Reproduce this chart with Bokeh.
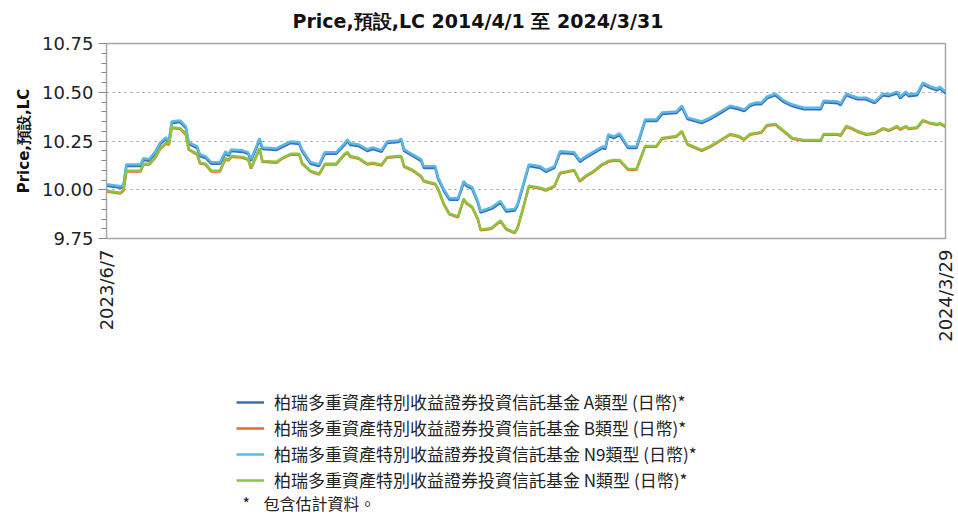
import math
import pandas as pd
from bokeh.plotting import figure
from bokeh.layouts import column
from bokeh.models import (FixedTicker, PrintfTickFormatter, Legend, LegendItem,
                          Label, Range1d, ColumnDataSource)
from bokeh.embed import file_html
from bokeh.resources import INLINE

title_text = "Price,預設,LC 2014/4/1 至 2024/3/31"
y_label = "Price,預設,LC"
footnote_mark = "*"
footnote_text = "包含估計資料。"

series_names = [
    "柏瑞多重資產特別收益證券投資信託基金 A類型 (日幣)*",
    "柏瑞多重資產特別收益證券投資信託基金 B類型 (日幣)*",
    "柏瑞多重資產特別收益證券投資信託基金 N9類型 (日幣)*",
    "柏瑞多重資產特別收益證券投資信託基金 N類型 (日幣)*",
]
series_colors = ["#3A6CC0", "#E8692A", "#5BB8E2", "#8DC43E"]

x_tick_dates = ["2023-06-07", "2024-03-29"]
x_tick_labels = ["2023/6/7", "2024/3/29"]
y_ticks = [9.75, 10.00, 10.25, 10.50, 10.75]

dates = [
    "2023-06-07", "2023-06-12", "2023-06-13", "2023-06-14", "2023-06-19", "2023-06-20", "2023-06-22", "2023-06-24",
    "2023-06-26", "2023-06-28", "2023-06-29", "2023-06-30", "2023-07-03", "2023-07-05", "2023-07-06", "2023-07-09",
    "2023-07-10", "2023-07-12", "2023-07-14", "2023-07-17", "2023-07-19", "2023-07-20", "2023-07-21", "2023-07-25",
    "2023-07-27", "2023-07-28", "2023-07-31", "2023-08-01", "2023-08-06", "2023-08-08", "2023-08-11", "2023-08-14",
    "2023-08-15", "2023-08-18", "2023-08-21", "2023-08-23", "2023-08-27", "2023-08-30", "2023-08-31", "2023-09-01",
    "2023-09-04", "2023-09-07", "2023-09-09", "2023-09-12", "2023-09-14", "2023-09-18", "2023-09-19", "2023-09-20",
    "2023-09-23", "2023-09-26", "2023-09-27", "2023-10-01", "2023-10-02", "2023-10-04", "2023-10-06", "2023-10-09",
    "2023-10-11", "2023-10-12", "2023-10-14", "2023-10-16", "2023-10-17", "2023-10-20", "2023-10-21", "2023-10-24",
    "2023-10-26", "2023-10-29", "2023-10-30", "2023-11-01", "2023-11-03", "2023-11-07", "2023-11-09", "2023-11-12",
    "2023-11-14", "2023-11-19", "2023-11-21", "2023-11-23", "2023-11-26", "2023-11-29", "2023-11-30", "2023-12-01",
    "2023-12-03", "2023-12-05", "2023-12-08", "2023-12-11", "2023-12-14", "2023-12-18", "2023-12-20", "2023-12-25",
    "2023-12-27", "2023-12-29", "2024-01-03", "2024-01-06", "2024-01-09", "2024-01-13", "2024-01-16", "2024-01-18",
    "2024-01-20", "2024-01-22", "2024-01-24", "2024-01-26", "2024-01-29", "2024-02-01", "2024-02-04", "2024-02-08",
    "2024-02-14", "2024-02-15", "2024-02-20", "2024-02-21", "2024-02-23", "2024-02-25", "2024-02-27", "2024-03-01",
    "2024-03-04", "2024-03-07", "2024-03-09", "2024-03-12", "2024-03-13", "2024-03-15", "2024-03-16", "2024-03-19",
    "2024-03-21", "2024-03-24", "2024-03-26", "2024-03-27", "2024-03-29",
]

class_a = [
    10.020, 10.010, 10.015, 10.122, 10.122, 10.153, 10.148, 10.184, 10.235, 10.260,
    10.240, 10.342, 10.347, 10.316, 10.235, 10.214, 10.173, 10.163, 10.133, 10.133,
    10.189, 10.173, 10.199, 10.194, 10.184, 10.148, 10.255, 10.209, 10.204, 10.219,
    10.240, 10.235, 10.199, 10.133, 10.122, 10.184, 10.184, 10.230, 10.250, 10.230,
    10.224, 10.199, 10.209, 10.194, 10.240, 10.245, 10.255, 10.199, 10.173, 10.148,
    10.112, 10.112, 10.056, 9.995, 9.949, 9.949, 10.036, 10.020, 10.005, 9.934,
    9.883, 9.898, 9.903, 9.934, 9.888, 9.893, 9.918, 10.020, 10.122, 10.112,
    10.092, 10.112, 10.189, 10.184, 10.143, 10.163, 10.189, 10.214, 10.209, 10.276,
    10.265, 10.281, 10.214, 10.214, 10.352, 10.352, 10.388, 10.393, 10.423, 10.362,
    10.342, 10.362, 10.388, 10.423, 10.413, 10.403, 10.429, 10.439, 10.439, 10.469,
    10.485, 10.449, 10.429, 10.413, 10.413, 10.449, 10.444, 10.434, 10.485, 10.474,
    10.464, 10.464, 10.444, 10.485, 10.480, 10.495, 10.469, 10.495, 10.480, 10.485,
    10.541, 10.520, 10.510, 10.520, 10.495,
]

class_b = [
    9.991, 9.981, 9.996, 10.093, 10.093, 10.129, 10.129, 10.159, 10.210, 10.236,
    10.231, 10.317, 10.312, 10.282, 10.205, 10.180, 10.134, 10.129, 10.093, 10.093,
    10.159, 10.149, 10.169, 10.164, 10.154, 10.108, 10.210, 10.144, 10.139, 10.159,
    10.180, 10.180, 10.134, 10.093, 10.078, 10.129, 10.129, 10.180, 10.190, 10.169,
    10.159, 10.129, 10.134, 10.124, 10.164, 10.169, 10.169, 10.118, 10.098, 10.067,
    10.042, 10.027, 10.001, 9.925, 9.874, 9.858, 9.950, 9.930, 9.909, 9.848,
    9.792, 9.797, 9.802, 9.838, 9.797, 9.777, 9.802, 9.904, 10.016, 10.006,
    9.996, 10.016, 10.083, 10.098, 10.042, 10.067, 10.093, 10.129, 10.134, 10.144,
    10.149, 10.149, 10.103, 10.103, 10.220, 10.220, 10.261, 10.272, 10.297, 10.231,
    10.200, 10.220, 10.246, 10.282, 10.272, 10.256, 10.282, 10.287, 10.292, 10.328,
    10.333, 10.297, 10.261, 10.251, 10.251, 10.282, 10.282, 10.277, 10.323, 10.312,
    10.297, 10.282, 10.287, 10.312, 10.302, 10.323, 10.307, 10.323, 10.312, 10.317,
    10.353, 10.338, 10.333, 10.338, 10.323,
]

class_n9 = [
    10.028, 10.018, 10.023, 10.130, 10.130, 10.161, 10.156, 10.192, 10.243, 10.268,
    10.248, 10.350, 10.355, 10.324, 10.243, 10.222, 10.181, 10.171, 10.141, 10.141,
    10.197, 10.181, 10.207, 10.202, 10.192, 10.156, 10.263, 10.217, 10.212, 10.227,
    10.248, 10.243, 10.207, 10.141, 10.130, 10.192, 10.192, 10.238, 10.258, 10.238,
    10.232, 10.207, 10.217, 10.202, 10.248, 10.253, 10.263, 10.207, 10.181, 10.156,
    10.120, 10.120, 10.064, 10.003, 9.957, 9.957, 10.044, 10.028, 10.013, 9.942,
    9.891, 9.906, 9.911, 9.942, 9.896, 9.901, 9.926, 10.028, 10.130, 10.120,
    10.100, 10.120, 10.197, 10.192, 10.151, 10.171, 10.197, 10.222, 10.217, 10.284,
    10.273, 10.289, 10.222, 10.222, 10.360, 10.360, 10.396, 10.401, 10.431, 10.370,
    10.350, 10.370, 10.396, 10.431, 10.421, 10.411, 10.437, 10.447, 10.447, 10.477,
    10.493, 10.457, 10.437, 10.421, 10.421, 10.457, 10.452, 10.442, 10.493, 10.482,
    10.472, 10.472, 10.452, 10.493, 10.488, 10.503, 10.477, 10.503, 10.488, 10.493,
    10.549, 10.528, 10.518, 10.528, 10.503,
]

class_n = [
    9.995, 9.985, 10.000, 10.097, 10.097, 10.133, 10.133, 10.163, 10.214, 10.240,
    10.235, 10.321, 10.316, 10.286, 10.209, 10.184, 10.138, 10.133, 10.097, 10.097,
    10.163, 10.153, 10.173, 10.168, 10.158, 10.112, 10.214, 10.148, 10.143, 10.163,
    10.184, 10.184, 10.138, 10.097, 10.082, 10.133, 10.133, 10.184, 10.194, 10.173,
    10.163, 10.133, 10.138, 10.128, 10.168, 10.173, 10.173, 10.122, 10.102, 10.071,
    10.046, 10.031, 10.005, 9.929, 9.878, 9.862, 9.954, 9.934, 9.913, 9.852,
    9.796, 9.801, 9.806, 9.842, 9.801, 9.781, 9.806, 9.908, 10.020, 10.010,
    10.000, 10.020, 10.087, 10.102, 10.046, 10.071, 10.097, 10.133, 10.138, 10.148,
    10.153, 10.153, 10.107, 10.107, 10.224, 10.224, 10.265, 10.276, 10.301, 10.235,
    10.204, 10.224, 10.250, 10.286, 10.276, 10.260, 10.286, 10.291, 10.296, 10.332,
    10.337, 10.301, 10.265, 10.255, 10.255, 10.286, 10.286, 10.281, 10.327, 10.316,
    10.301, 10.286, 10.291, 10.316, 10.306, 10.327, 10.311, 10.327, 10.316, 10.321,
    10.357, 10.342, 10.337, 10.342, 10.327,
]

x = pd.to_datetime(dates)
source = ColumnDataSource(dict(date=x, a=class_a, b=class_b, n9=class_n9, n=class_n))
cols = ["a", "b", "n9", "n"]

x_start = pd.Timestamp(x_tick_dates[0])
x_end = pd.Timestamp(x_tick_dates[1])

# ---------------- main chart ----------------
p = figure(width=958, height=360, x_axis_type="datetime",
           output_backend="svg", toolbar_location=None,
           x_range=Range1d(x_start, x_end), y_range=Range1d(y_ticks[0], y_ticks[-1]),
           min_border_left=106, min_border_right=13, min_border_top=42,
           min_border_bottom=122, background_fill_color="white",
           border_fill_color="white")

p.title.text = title_text
p.title.text_font = "DejaVu Sans"
p.title.text_font_style = "bold"
p.title.text_font_size = "19px"
p.title.text_color = "#111111"
p.title.align = "left"
p.title.offset = 186
p.title.vertical_align = "top"
p.title.standoff = 19

p.outline_line_color = "#A8A8A8"
p.outline_line_width = 1.5

renderers = []
for col, color in zip(cols, series_colors):
    r = p.line("date", col, source=source, line_color=color, line_width=2.5)
    renderers.append(r)

tick_ms = [int(pd.Timestamp(d).timestamp() * 1000) for d in x_tick_dates]
p.xaxis.ticker = FixedTicker(ticks=tick_ms, minor_ticks=[])
p.xaxis.major_label_overrides = {t: lab for t, lab in zip(tick_ms, x_tick_labels)}
p.xaxis.major_label_orientation = math.pi / 2
p.xaxis.major_label_text_font = "DejaVu Sans"
p.xaxis.major_label_text_font_size = "18px"
p.xaxis.major_label_text_color = "#222222"
p.xaxis.major_tick_line_color = None
p.xaxis.minor_tick_line_color = None
p.xaxis.axis_line_color = "#A8A8A8"
p.xaxis.major_label_standoff = 5

minor = [9.80, 9.85, 9.90, 9.95, 10.05, 10.10, 10.15, 10.20, 10.30, 10.35,
         10.40, 10.45, 10.55, 10.60, 10.65, 10.70]
p.yaxis.ticker = FixedTicker(ticks=y_ticks, minor_ticks=minor)
p.yaxis.formatter = PrintfTickFormatter(format="%.2f")
p.yaxis.axis_label = y_label
p.yaxis.axis_label_text_font = "DejaVu Sans"
p.yaxis.axis_label_text_font_style = "bold"
p.yaxis.axis_label_text_font_size = "15px"
p.yaxis.axis_label_text_color = "#111111"
p.yaxis.axis_label_standoff = 6
p.yaxis.major_label_text_font = "DejaVu Sans"
p.yaxis.major_label_text_font_size = "18px"
p.yaxis.major_label_text_color = "#222222"
p.yaxis.major_tick_in = 0
p.yaxis.major_tick_out = 8
p.yaxis.minor_tick_in = 0
p.yaxis.minor_tick_out = 5
p.yaxis.major_tick_line_color = "#888888"
p.yaxis.minor_tick_line_color = "#888888"
p.yaxis.axis_line_color = "#A8A8A8"
p.yaxis.major_label_standoff = 5

p.xgrid.visible = False
p.ygrid.grid_line_color = "#9A9A9A"
p.ygrid.grid_line_dash = "dotted"
p.ygrid.grid_line_width = 1

# ---------------- legend panel (frame aligned with the chart: x 106..945) ----------------
p2 = figure(width=958, height=155, output_backend="svg", toolbar_location=None,
            x_range=Range1d(0, 1), y_range=Range1d(0, 1),
            x_axis_location=None, y_axis_location=None,
            min_border_left=106, min_border_right=13,
            min_border_top=0, min_border_bottom=0,
            background_fill_color="white", border_fill_color="white")
p2.outline_line_color = None
p2.grid.visible = False

# legend key renderers reuse the same data; they fall outside this panel's ranges
keys = []
for col, color in zip(cols, series_colors):
    keys.append(p2.line("date", col, source=source, line_color=color, line_width=2.5))

legend = Legend(
    items=[LegendItem(label=nm, renderers=[r]) for nm, r in zip(series_names, keys)],
    location=(130, 23), orientation="vertical",
    label_text_font="Noto Sans CJK TC", label_text_font_size="17px",
    label_text_color="#222222", glyph_width=28, glyph_height=20,
    label_height=20, spacing=1, label_standoff=10, padding=0, margin=0,
    border_line_color=None, background_fill_alpha=0,
)
p2.add_layout(legend)

note_mark = Label(x=136, y=13, x_units="screen", y_units="screen", text=footnote_mark,
                  text_baseline="middle", text_font="Noto Sans CJK TC",
                  text_font_size="16px", text_color="#222222")
note_text = Label(x=157, y=13, x_units="screen", y_units="screen", text=footnote_text,
                  text_baseline="middle", text_font="Noto Sans CJK TC",
                  text_font_size="16px", text_color="#222222")
p2.add_layout(note_mark)
p2.add_layout(note_text)

open("out.html", "w").write(file_html(column(p, p2, spacing=0), INLINE))
